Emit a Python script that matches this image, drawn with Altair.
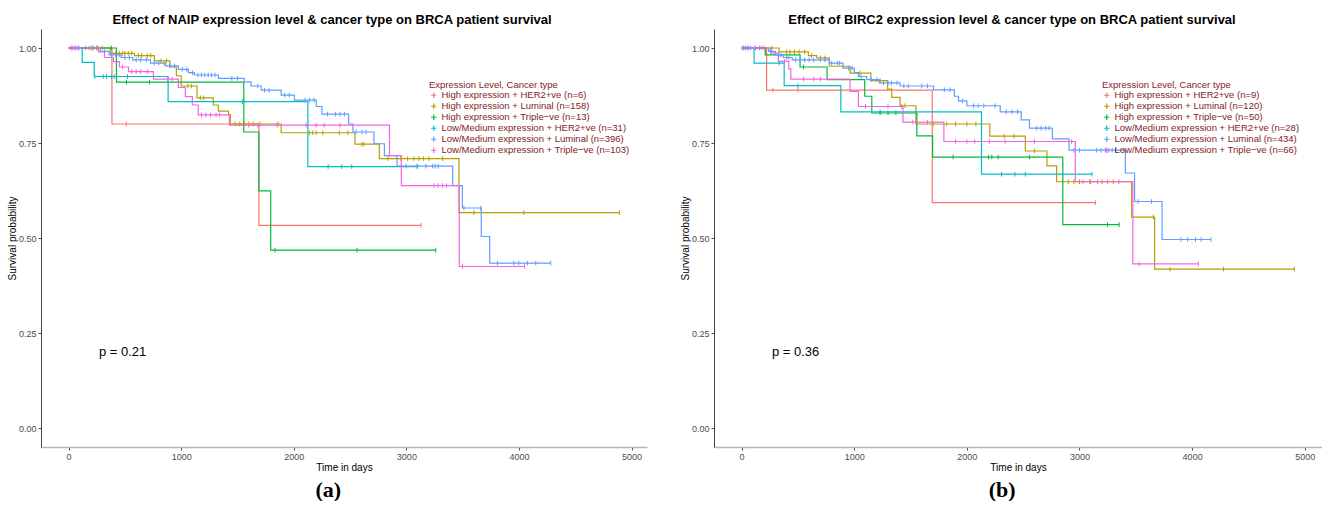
import altair as alt
import pandas as pd

# ---- shared styling -------------------------------------------------------
PALETTE = ["#F8766D", "#B79F00", "#00BA38", "#00BFC4", "#619CFF", "#F564E3"]
SANS = "Liberation Sans"

# ---- panel (a): NAIP ------------------------------------------------------
a_labels = [
    "High expression + HER2+ve (n=6)",
    "High expression + Luminal (n=158)",
    "High expression + Triple\u2212ve (n=13)",
    "Low/Medium expression + HER2+ve (n=31)",
    "Low/Medium expression + Luminal (n=396)",
    "Low/Medium expression + Triple\u2212ve (n=103)",
]

a_her2_hi_t = [0, 385, 1690]
a_her2_hi_s = [1.0, 0.80, 0.533]
a_her2_hi_end = 3130
a_her2_hi_cens = [512, 3130]

a_lum_hi_t = [0, 370, 585, 762, 900, 957, 1000, 1140, 1285, 1330, 1420, 1436, 1888, 2543, 2760, 3467]
a_lum_hi_s = [1.0, 0.986, 0.98, 0.966, 0.95, 0.927, 0.90, 0.869, 0.85, 0.834, 0.825, 0.80, 0.777, 0.747, 0.709, 0.567]
a_lum_hi_end = 4892
a_lum_hi_cens = [180, 220, 260, 300, 420, 450, 480, 500, 530, 560, 620, 650, 700, 730, 820, 870,
                 1060, 1090, 1170, 1200, 1480, 1520, 1560, 1600, 1640, 1700, 1860, 2137, 2169,
                 2199, 2258, 2405, 2480, 2604, 2621, 2837, 2952, 3011, 3067, 3112, 3153, 3200,
                 3322, 3600, 4043, 4892]

a_tn_hi_t = [0, 425, 1556, 1690, 1795]
a_tn_hi_s = [1.0, 0.91, 0.779, 0.624, 0.468]
a_tn_hi_end = 3261
a_tn_hi_cens = [380, 514, 718, 1833, 2562, 3261]

a_her2_lo_t = [0, 121, 228, 884, 2125]
a_her2_lo_s = [1.0, 0.962, 0.925, 0.859, 0.688]
a_her2_lo_end = 3100
a_her2_lo_cens = [233, 307, 337, 381, 405, 523, 1543, 2305, 2426, 2515, 3100]

a_lum_lo_t = [0, 280, 360, 467, 570, 727, 860, 975, 1064, 1117, 1330, 1560, 1620, 1711, 1888,
              2005, 2200, 2250, 2487, 2525, 2712, 2805, 2917, 3411, 3497, 3665, 3740]
a_lum_lo_s = [1.0, 0.991, 0.982, 0.975, 0.969, 0.96, 0.953, 0.944, 0.935, 0.929, 0.92, 0.911,
              0.90, 0.889, 0.876, 0.863, 0.846, 0.826, 0.80, 0.779, 0.748, 0.717, 0.689, 0.638,
              0.579, 0.504, 0.434]
a_lum_lo_end = 4282
a_lum_lo_cens = [30, 60, 90, 150, 210, 250, 320, 380, 420, 450, 500, 540, 600, 640, 690, 760,
                 800, 850, 900, 940, 1010, 1050, 1100, 1150, 1180, 1210, 1240, 1270, 1300, 1450,
                 1500, 1680, 1740, 1780, 1920, 1960, 2100, 2140, 2180, 2300, 2370, 2410, 2450,
                 2553, 2606, 2642, 2996, 3094, 3174, 3233, 3256, 3283, 3511, 3661, 3809, 3954,
                 3998, 4075, 4149, 4282]

a_tn_lo_t = [0, 266, 319, 399, 452, 532, 753, 975, 1037, 1099, 1152, 1427, 2850, 2955, 3470]
a_tn_lo_s = [1.0, 0.99, 0.975, 0.964, 0.95, 0.938, 0.918, 0.896, 0.872, 0.85, 0.824, 0.797,
             0.717, 0.638, 0.425]
a_tn_lo_end = 4050
a_tn_lo_cens = [20, 40, 60, 80, 200, 250, 480, 560, 600, 640, 700, 880, 920, 1180, 1220, 1260,
                1310, 1340, 1600, 1680, 1850, 2110, 2199, 2270, 2411, 3245, 3280, 3322, 3357,
                3499, 4050]

# ---- panel (b): BIRC2 -----------------------------------------------------
b_labels = [
    "High expression + HER2+ve (n=9)",
    "High expression + Luminal (n=120)",
    "High expression + Triple\u2212ve (n=50)",
    "Low/Medium expression + HER2+ve (n=28)",
    "Low/Medium expression + Luminal (n=434)",
    "Low/Medium expression + Triple\u2212ve (n=66)",
]

b_her2_hi_t = [0, 222, 1693]
b_her2_hi_s = [1.0, 0.889, 0.593]
b_her2_hi_end = 3141
b_her2_hi_cens = [278, 500, 3141]

b_lum_hi_t = [0, 333, 593, 667, 778, 963, 1148, 1296, 1333, 1407, 1548, 2204, 2519, 2711, 2797, 3463, 3667]
b_lum_hi_s = [1.0, 0.99, 0.98, 0.974, 0.952, 0.934, 0.914, 0.892, 0.870, 0.848, 0.80, 0.768,
              0.729, 0.69, 0.648, 0.555, 0.418]
b_lum_hi_end = 4908
b_lum_hi_cens = [200, 270, 400, 430, 470, 510, 560, 620, 700, 740, 1050, 1230, 1450, 1700,
                 1820, 1900, 2000, 2080, 2330, 2420, 2600, 2900, 2950, 3000, 3100, 3200, 3300,
                 3656, 3804, 4278, 4908]

b_tn_hi_t = [0, 210, 519, 759, 1093, 1156, 1556, 1696, 2852]
b_tn_hi_s = [1.0, 0.982, 0.95, 0.917, 0.873, 0.829, 0.769, 0.713, 0.535]
b_tn_hi_end = 3352
b_tn_hi_cens = [550, 1230, 1300, 1370, 1878, 2193, 2222, 2278, 2556, 3248, 3352]

b_her2_lo_t = [0, 111, 378, 881, 2130]
b_her2_lo_s = [1.0, 0.96, 0.901, 0.832, 0.668]
b_her2_lo_end = 3111
b_her2_lo_cens = [333, 500, 1230, 2308, 2426, 2519, 3111]

b_lum_lo_t = [0, 240, 300, 370, 450, 780, 900, 1000, 1037, 1111, 1222, 1407, 1704, 1889, 1926,
              2000, 2296, 2482, 2556, 2759, 2907, 3407, 3489, 3733]
b_lum_lo_s = [1.0, 0.991, 0.982, 0.975, 0.969, 0.96, 0.947, 0.935, 0.925, 0.917, 0.908, 0.90,
              0.89, 0.873, 0.861, 0.848, 0.832, 0.811, 0.789, 0.761, 0.731, 0.671, 0.596, 0.496]
b_lum_lo_end = 4167
b_lum_lo_cens = [20, 50, 80, 120, 160, 260, 330, 350, 400, 420, 480, 520, 560, 600, 640, 700,
                 740, 800, 850, 870, 950, 980, 1060, 1150, 1200, 1260, 1300, 1330, 1380, 1440,
                 1480, 1600, 1650, 1800, 1850, 1960, 2060, 2100, 2150, 2250, 2350, 2400, 2450,
                 2620, 2660, 2700, 2730, 2950, 3000, 3150, 3190, 3230, 3260, 3290, 3320, 3520,
                 3640, 3900, 3960, 4030, 4080, 4167]

b_tn_lo_t = [0, 259, 326, 419, 437, 963, 1037, 1433, 1796, 2963, 3474]
b_tn_lo_s = [1.0, 0.987, 0.965, 0.945, 0.918, 0.886, 0.846, 0.805, 0.754, 0.648, 0.432]
b_tn_lo_end = 4056
b_tn_lo_cens = [10, 30, 60, 120, 180, 380, 550, 640, 700, 1100, 1300, 1420, 1520, 1650, 1900,
                2000, 2070, 2200, 2340, 2600, 2930, 3030, 3090, 3160, 3250, 3350, 3530, 4056]

a_series = [
    (a_her2_hi_t, a_her2_hi_s, a_her2_hi_end, a_her2_hi_cens),
    (a_lum_hi_t, a_lum_hi_s, a_lum_hi_end, a_lum_hi_cens),
    (a_tn_hi_t, a_tn_hi_s, a_tn_hi_end, a_tn_hi_cens),
    (a_her2_lo_t, a_her2_lo_s, a_her2_lo_end, a_her2_lo_cens),
    (a_lum_lo_t, a_lum_lo_s, a_lum_lo_end, a_lum_lo_cens),
    (a_tn_lo_t, a_tn_lo_s, a_tn_lo_end, a_tn_lo_cens),
]
b_series = [
    (b_her2_hi_t, b_her2_hi_s, b_her2_hi_end, b_her2_hi_cens),
    (b_lum_hi_t, b_lum_hi_s, b_lum_hi_end, b_lum_hi_cens),
    (b_tn_hi_t, b_tn_hi_s, b_tn_hi_end, b_tn_hi_cens),
    (b_her2_lo_t, b_her2_lo_s, b_her2_lo_end, b_her2_lo_cens),
    (b_lum_lo_t, b_lum_lo_s, b_lum_lo_end, b_lum_lo_cens),
    (b_tn_lo_t, b_tn_lo_s, b_tn_lo_end, b_tn_lo_cens),
]


def survival_at(times, survs, t):
    level = survs[0]
    for ti, si in zip(times, survs):
        if ti <= t:
            level = si
    return level


def build_frames(labels, series):
    curve_rows, cens_rows = [], []
    for label, (times, survs, end, cens) in zip(labels, series):
        for i, (ti, si) in enumerate(zip(times, survs)):
            curve_rows.append({"group": label, "t": ti, "s": si, "k": i})
        curve_rows.append({"group": label, "t": end, "s": survs[-1], "k": len(times)})
        for c in cens:
            cens_rows.append({"group": label, "t": c, "s": survival_at(times, survs, c)})
    return pd.DataFrame(curve_rows), pd.DataFrame(cens_rows)


PLUS = "M-1,0L1,0M0,-1L0,1"
TICK = "M0,-1L0,1"


def km_panel(labels, series, title, pval, tag, width, xmax, title_dx):
    curves, cens = build_frames(labels, series)
    xscale = alt.Scale(domain=[-245, xmax], nice=False, zero=False)
    yscale = alt.Scale(domain=[-0.05, 1.05], nice=False, zero=False)
    color = alt.Color(
        "group:N",
        scale=alt.Scale(domain=labels, range=PALETTE),
        legend=alt.Legend(
            title="Expression Level, Cancer type",
            orient="none", legendX=388, legendY=51,
            titleFont=SANS, titleFontSize=9.5, titleFontWeight="normal",
            titleColor="#7F1D1D", titlePadding=1,
            labelFont=SANS, labelFontSize=9.5, labelColor="#7F1D1D", labelOffset=3,
            symbolType=PLUS, symbolSize=28, symbolStrokeWidth=1.2,
            rowPadding=0, padding=0, labelLimit=400,
        ),
    )
    xaxis = alt.X("t:Q", scale=xscale, title="Time in days",
                  axis=alt.Axis(values=[0, 1000, 2000, 3000, 4000, 5000], format="d",
                                domainColor="#b5b5b5", domainWidth=1.5))
    yaxis = alt.Y("s:Q", scale=yscale, title="Survival probability",
                  axis=alt.Axis(values=[0, 0.25, 0.5, 0.75, 1.0], format=".2f",
                                domainColor="#444444", domainWidth=1))

    lines = alt.Chart(curves).mark_line(interpolate="step-after", strokeWidth=1.2).encode(
        x=xaxis, y=yaxis, color=color, order="k:Q", detail="group:N")
    marks = alt.Chart(cens).mark_point(shape=TICK, size=22, strokeWidth=1, filled=False,
                                       opacity=1).encode(x="t:Q", y="s:Q", color=color)

    text_df = pd.DataFrame({"t": [269], "s": [0.2], "txt": [pval]})
    ptext = alt.Chart(text_df).mark_text(align="left", baseline="middle", font=SANS,
                                         fontSize=13, color="black").encode(
        x="t:Q", y="s:Q", text="txt:N")

    tag_df = pd.DataFrame({"t": [(xmax - 245) / 2 - 140], "s": [-0.162], "txt": [tag]})
    tagtext = alt.Chart(tag_df).mark_text(align="center", baseline="middle",
                                          font="Liberation Serif", fontSize=22,
                                          fontWeight="bold", color="black").encode(
        x="t:Q", y="s:Q", text="txt:N")

    return alt.layer(lines, marks, ptext, tagtext).properties(
        width=width, height=418,
        title=alt.TitleParams(title, font=SANS, fontSize=13, fontWeight="bold",
                              color="black", anchor="middle", dx=title_dx, offset=2),
    )


panel_a = km_panel(a_labels, a_series,
                   "Effect of NAIP expression level & cancer type on BRCA patient survival",
                   "p = 0.21", "(a)", 606, 5137, -12)
panel_b = km_panel(b_labels, b_series,
                   "Effect of BIRC2 expression level & cancer type on BRCA patient survival",
                   "p = 0.36", "(b)", 608, 5153, -6)

chart = alt.hconcat(panel_a, panel_b, spacing=33).resolve_scale(
    color="independent"
).resolve_legend(color="independent").properties(
    padding={"left": 7, "top": 14, "right": 0, "bottom": 0},
    background="white",
).configure_view(stroke=None).configure_axis(
    grid=False, labelFont=SANS, labelFontSize=9, labelColor="#4D4D4D",
    tickSize=3, tickColor="#4D4D4D", labelPadding=2,
    titleFont=SANS, titleFontSize=10, titleFontWeight="normal", titleColor="black",
    titlePadding=1,
)

chart.save("out.html", embed_options={"renderer": "svg", "actions": False})
